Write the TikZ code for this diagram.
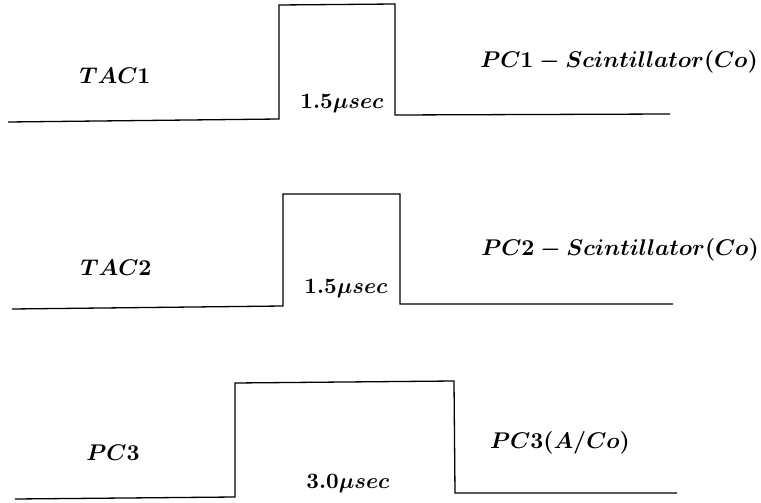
\documentclass[tikz,border=0pt]{standalone}
\tikzset{
  wave/.style={line width=1.3pt, line join=miter},
  lbl/.style={inner sep=0pt, scale=2.27, font=\boldmath},
  dur/.style={inner sep=0pt, scale=2.2, font=\boldmath}
}
\begin{document}
\begin{tikzpicture}[x=1pt, y=-1pt]
\useasboundingbox (0,0) rectangle (761,503);

% pulse 1
\coordinate (a0) at (8,122);
\coordinate (a1) at (279,119);
\coordinate (a2) at (279,5);
\coordinate (a3) at (395,4);
\coordinate (a4) at (395,115);
\coordinate (a5) at (670,114);
\draw[wave] (a0) -- (a1) -- (a2) -- (a3) -- (a4) -- (a5);
\node[lbl] (tac1) at (115,76) {$TAC1$};
\node[dur] (d1) at (342,104) {$1.5\mu sec$};
\node[lbl] (pc1) at (619,62) {$PC1 - Scintillator(Co)$};

% pulse 2
\coordinate (b0) at (12,309);
\coordinate (b1) at (283,306);
\coordinate (b2) at (283,194);
\coordinate (b3) at (400,194);
\coordinate (b4) at (400,304);
\coordinate (b5) at (673,304);
\draw[wave] (b0) -- (b1) -- (b2) -- (b3) -- (b4) -- (b5);
\node[lbl] (tac2) at (116,268) {$TAC2$};
\node[dur] (d2) at (346,289) {$1.5\mu sec$};
\node[lbl] (pc2) at (620,250) {$PC2 - Scintillator(Co)$};

% pulse 3
\coordinate (c0) at (15,499);
\coordinate (c1) at (235,497);
\coordinate (c2) at (235,383);
\coordinate (c3) at (454,381);
\coordinate (c4) at (455,493);
\coordinate (c5) at (677,493);
\draw[wave] (c0) -- (c1) -- (c2) -- (c3) -- (c4) -- (c5);
\node[lbl] (pc3) at (113,453) {$PC3$};
\node[dur] (d3) at (348,484) {$3.0\mu sec$};
\node[lbl] (pc3b) at (560,443) {$PC3(A/Co)$};
\end{tikzpicture}
\end{document}
